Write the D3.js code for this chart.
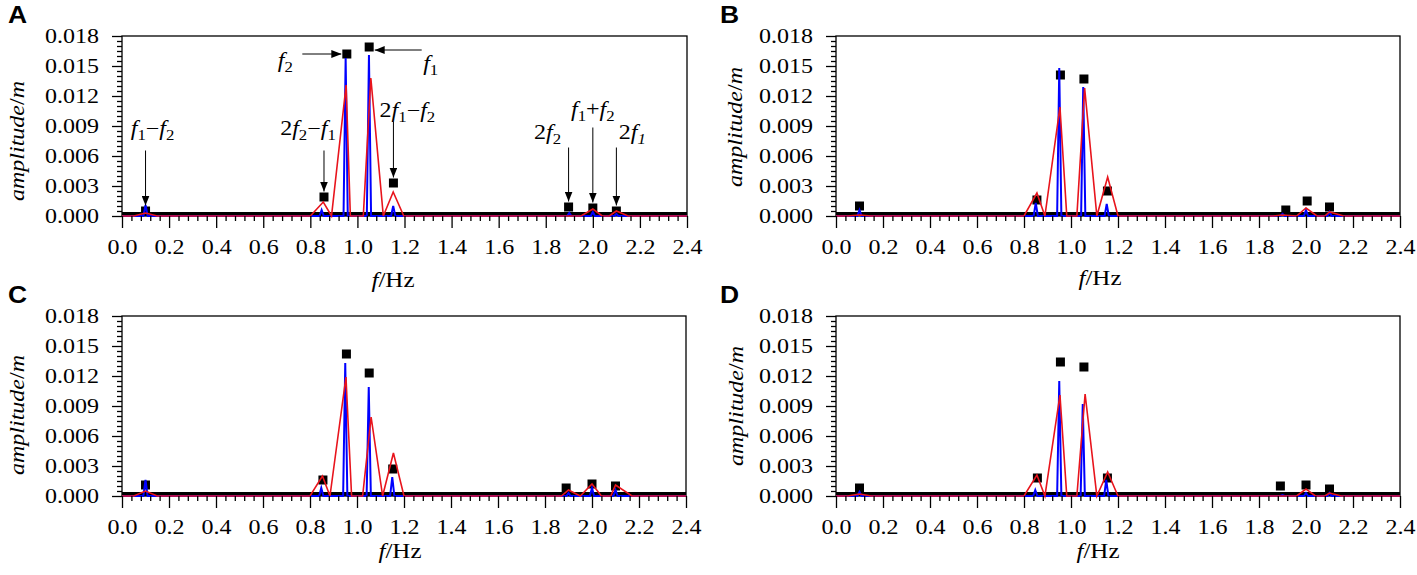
<!DOCTYPE html>
<html>
<head>
<meta charset="utf-8">
<script src="https://cdn.jsdelivr.net/npm/d3@7"></script>
<style>
  body { margin: 0; background: #fff; }
  svg { display: block; }
  text { font-family: "Liberation Serif", "Times New Roman", serif; fill: #000; }
</style>
</head>
<body>
<svg id="chart" width="1417" height="575"></svg>
<script>
// tick values
const freqTicks = [0.0, 0.2, 0.4, 0.6, 0.8, 1.0, 1.2, 1.4, 1.6, 1.8, 2.0, 2.2, 2.4];
const ampTicks = [0.000, 0.003, 0.006, 0.009, 0.012, 0.015, 0.018];

// black squares: [f, amplitude]
const squaresA = [[0.1, 0.0005], [0.858, 0.0019], [0.955, 0.0162], [1.05, 0.0169], [1.153, 0.0033], [1.897, 0.0009], [2.0, 0.0008], [2.1, 0.0005]];
const squaresB = [[0.1, 0.0010], [0.855, 0.0016], [0.955, 0.0141], [1.055, 0.0137], [1.155, 0.0025], [1.914, 0.0006], [2.005, 0.0015], [2.1, 0.0009]];
const squaresC = [[0.1, 0.0011], [0.855, 0.0016], [0.955, 0.0142], [1.052, 0.0123], [1.152, 0.0027], [1.89, 0.0008], [2.0, 0.0012], [2.1, 0.0010]];
const squaresD = [[0.1, 0.0008], [0.857, 0.0018], [0.955, 0.0134], [1.055, 0.0129], [1.155, 0.0018], [1.891, 0.0010], [2.0, 0.0011], [2.1, 0.0007]];

// blue spectrum peaks: [f, amplitude]
const blueA = [[0.1, 0.0011], [0.848, 0.0006], [0.950, 0.0158], [1.049, 0.0161], [1.152, 0.0010], [1.9, 0.0003], [2.0, 0.0004], [2.1, 0.0002]];
const blueB = [[0.1, 0.0006], [0.850, 0.0013], [0.950, 0.0148], [1.052, 0.0129], [1.152, 0.0012], [1.9, 0.0002], [2.0, 0.0006], [2.1, 0.0004]];
const blueC = [[0.1, 0.0016], [0.848, 0.0008], [0.950, 0.0133], [1.050, 0.0109], [1.150, 0.0019], [1.9, 0.0003], [2.0, 0.0008], [2.1, 0.0006]];
const blueD = [[0.1, 0.0004], [0.848, 0.0006], [0.950, 0.0115], [1.050, 0.0092], [1.150, 0.0016], [1.9, 0.0001], [2.0, 0.0003], [2.1, 0.0003]];

// red (coarse) spectrum: [f, amplitude]
const redA = [[0, 0], [0.05, 0], [0.1, 0.0003], [0.15, 0], [0.80, 0], [0.855, 0.0014], [0.89, 0], [0.952, 0.0131], [0.97, 0], [1.025, 0], [1.057, 0.0138], [1.11, 0], [1.152, 0.0024], [1.197, 0], [1.95, 0], [2.0, 0.0007], [2.04, 0], [2.07, 0], [2.1, 0.0005], [2.15, 0], [2.4, 0]];
const redB = [[0, 0], [0.05, 0], [0.1, 0.0001], [0.15, 0], [0.80, 0], [0.855, 0.0023], [0.889, 0], [0.953, 0.0109], [0.982, 0], [1.025, 0], [1.058, 0.0128], [1.11, 0], [1.156, 0.0039], [1.20, 0], [1.86, 0], [1.9, 0.0001], [1.96, 0], [2.0, 0.0008], [2.047, 0], [2.08, 0], [2.1, 0.0004], [2.16, 0], [2.4, 0]];
const redC = [[0, 0], [0.05, 0], [0.1, 0.0005], [0.15, 0], [0.80, 0], [0.853, 0.0020], [0.885, 0], [0.953, 0.0119], [0.977, 0], [1.024, 0], [1.06, 0.0079], [1.109, 0], [1.155, 0.0043], [1.20, 0], [1.87, 0], [1.9, 0.0006], [1.95, 0], [2.0, 0.0012], [2.04, 0], [2.08, 0], [2.1, 0.0011], [2.17, 0], [2.4, 0]];
const redD = [[0, 0], [0.05, 0], [0.1, 0.0002], [0.15, 0], [0.80, 0], [0.855, 0.0021], [0.889, 0], [0.953, 0.0101], [0.982, 0], [1.025, 0], [1.06, 0.0102], [1.11, 0], [1.156, 0.0024], [1.20, 0], [1.96, 0], [2.0, 0.0007], [2.04, 0], [2.08, 0], [2.1, 0.0003], [2.15, 0], [2.4, 0]];

// thick black near-zero trace
const blackTrace = [[0, 0.0002], [2.4, 0.0002]];

// annotations of panel A: label parts and the square they point to
const notesA = [
  { sq: 0, label: [['f', 'i'], ['1', 's'], ['\u2212', 'n'], ['f', 'i'], ['2', 's']], dir: 'down', len: 55, dx: 7, dy: -16 },
  { sq: 1, label: [['2', 'n'], ['f', 'i'], ['2', 's'], ['\u2212', 'n'], ['f', 'i'], ['1', 's']], dir: 'down', len: 41, dx: -16, dy: -16 },
  { sq: 4, label: [['2', 'n'], ['f', 'i'], ['1', 's'], ['\u2212', 'n'], ['f', 'i'], ['2', 's']], dir: 'down', len: 56, dx: 14, dy: -5 },
  { sq: 5, label: [['2', 'n'], ['f', 'i'], ['2', 's']], dir: 'down', len: 54, dx: -21, dy: -9 },
  { sq: 6, label: [['f', 'i'], ['1', 's'], ['+', 'n'], ['f', 'i'], ['2', 's']], dir: 'down', len: 75, dx: 0, dy: -12 },
  { sq: 7, label: [['2', 'n'], ['f', 'i'], ['1', 'si']], dir: 'down', len: 58, dx: 16, dy: -9 },
  { sq: 2, label: [['f', 'i'], ['2', 's']], dir: 'right', len: 39, dx: -17, dy: 13 },
  { sq: 3, label: [['f', 'i'], ['1', 's']], dir: 'left', len: 47, dx: 9, dy: 20, off: 3 }
];

const panels = [
  { id: 'A', left: 122, top: 36, width: 565, height: 180, letter: [8, 23], ylab: [17, 141], xlab: [393, 287], squares: squaresA, blue: blueA, red: redA, notes: notesA },
  { id: 'B', left: 836, top: 36, width: 564, height: 180, letter: [720, 23], ylab: [735, 127], xlab: [1100, 285], squares: squaresB, blue: blueB, red: redB, notes: [] },
  { id: 'C', left: 122, top: 316, width: 564, height: 180, letter: [8, 303], ylab: [17, 415], xlab: [400, 558], squares: squaresC, blue: blueC, red: redC, notes: [] },
  { id: 'D', left: 836, top: 316, width: 564, height: 180, letter: [720, 303], ylab: [736, 406], xlab: [1098, 558], squares: squaresD, blue: blueD, red: redD, notes: [] }
];

const spikeHalf = 0.009;
const sqSize = 9;
const serif = '"Liberation Serif", "Times New Roman", serif';

const svg = d3.select('#chart');
const defs = svg.append('defs');
defs.append('marker')
  .attr('id', 'head')
  .attr('viewBox', '0 0 10 8')
  .attr('refX', 10).attr('refY', 4)
  .attr('markerWidth', 10).attr('markerHeight', 8)
  .attr('markerUnits', 'userSpaceOnUse')
  .attr('orient', 'auto')
  .append('path').attr('d', 'M0,0 L10,4 L0,8 Z').attr('fill', '#000');

// make text a bit wider, like the original
function widen(sel, k) {
  sel.each(function () {
    const w = this.getComputedTextLength();
    d3.select(this).attr('textLength', w * k).attr('lengthAdjust', 'spacingAndGlyphs');
  });
}

function richText(g, parts, size) {
  const t = g.append('text').attr('text-anchor', 'middle')
    .style('font-family', serif).style('font-size', size + 'px');
  let shift = 0;
  parts.forEach(([s, kind]) => {
    const ts = t.append('tspan').text(s);
    if (kind === 'i' || kind === 'si') ts.style('font-style', 'italic');
    if (kind === 's' || kind === 'si') {
      ts.style('font-size', (size * 0.7) + 'px').attr('dy', 5 - shift);
      shift = 5;
    } else {
      ts.attr('dy', -shift);
      shift = 0;
    }
  });
  return t;
}

panels.forEach(p => {
  const x = d3.scaleLinear().domain([0, 2.4]).range([p.left, p.left + p.width]);
  const y = d3.scaleLinear().domain([0, 0.018]).range([p.top + p.height, p.top]);
  const g = svg.append('g');

  // frame
  g.append('rect')
    .attr('x', p.left).attr('y', p.top)
    .attr('width', p.width).attr('height', p.height)
    .attr('fill', 'none').attr('stroke', '#000').attr('stroke-width', 1.3);

  // black near-zero trace
  const line = d3.line().x(d => x(d[0])).y(d => y(d[1]));
  g.append('path').attr('d', line(blackTrace))
    .attr('fill', 'none').attr('stroke', '#000').attr('stroke-width', 4);

  // squares
  g.selectAll('.sq').data(p.squares).enter().append('rect')
    .attr('class', 'sq')
    .attr('x', d => x(d[0]) - sqSize / 2)
    .attr('y', d => y(d[1]) - sqSize / 2)
    .attr('width', sqSize).attr('height', sqSize)
    .attr('fill', '#000');

  // blue fine spectrum: narrow spikes on a zero baseline
  const bluePts = [[0, 0]];
  p.blue.forEach(([f, a]) => { bluePts.push([f - spikeHalf, 0], [f, a], [f + spikeHalf, 0]); });
  bluePts.push([2.4, 0]);
  g.append('path').attr('d', line(bluePts))
    .attr('fill', 'none').attr('stroke', '#0000ff').attr('stroke-width', 2)
    .attr('stroke-linejoin', 'miter');

  // red coarse spectrum
  g.append('path').attr('d', line(p.red))
    .attr('fill', 'none').attr('stroke', '#e8141c').attr('stroke-width', 1.6);

  // x axis
  const xMinor = d3.range(0, 2.4001, 0.04).filter(v => Math.abs(v / 0.2 - Math.round(v / 0.2)) > 1e-6);
  const gxm = g.append('g').attr('transform', `translate(0,${p.top + p.height})`)
    .call(d3.axisBottom(x).tickValues(xMinor).tickSize(5).tickFormat(''));
  const gx = g.append('g').attr('transform', `translate(0,${p.top + p.height})`)
    .call(d3.axisBottom(x).tickValues(freqTicks).tickSize(12).tickPadding(12).tickFormat(d3.format('.1f')));

  // y axis
  const yMinor = d3.range(0, 0.01801, 0.0005).filter(v => Math.abs(v / 0.003 - Math.round(v / 0.003)) > 1e-6);
  const gym = g.append('g').attr('transform', `translate(${p.left},0)`)
    .call(d3.axisLeft(y).tickValues(yMinor).tickSize(5).tickFormat(''));
  const gy = g.append('g').attr('transform', `translate(${p.left},0)`)
    .call(d3.axisLeft(y).tickValues(ampTicks).tickSize(10).tickPadding(13).tickFormat(d3.format('.3f')));

  [gxm, gx, gym, gy].forEach(a => {
    a.attr('font-family', serif);
    a.select('.domain').remove();
    a.selectAll('line').attr('stroke', '#000').attr('stroke-width', 1.3);
  });
  [gx, gy].forEach(a => {
    a.selectAll('text').style('font-family', serif).style('font-size', '20px').attr('fill', '#000');
    widen(a.selectAll('text'), 1.2);
  });

  // axis titles
  const yl = g.append('text')
    .attr('transform', `translate(${p.ylab[0]},${p.ylab[1]}) rotate(-90)`)
    .attr('text-anchor', 'middle').attr('dy', '0.35em')
    .style('font-family', serif).style('font-size', '20px');
  yl.append('tspan').text('amplitude').style('font-style', 'italic');
  yl.append('tspan').text('/');
  yl.append('tspan').text('m').style('font-style', 'italic');
  widen(yl, 1.2);

  const xl = g.append('text')
    .attr('x', p.xlab[0]).attr('y', p.xlab[1])
    .attr('text-anchor', 'middle')
    .style('font-family', serif).style('font-size', '20px');
  xl.append('tspan').text('f').style('font-style', 'italic');
  xl.append('tspan').text('/Hz');
  widen(xl, 1.25);

  // panel letter
  const lt = g.append('text')
    .attr('x', p.letter[0]).attr('y', p.letter[1])
    .style('font-family', '"Liberation Sans", Arial, sans-serif')
    .style('font-weight', 'bold').style('font-size', '23px')
    .text(p.id);
  widen(lt, 1.15);

  // annotations
  p.notes.forEach(n => {
    const [f, a] = p.squares[n.sq];
    const sx = x(f), sy = y(a);
    let x1, y1, x2, y2;
    if (n.dir === 'down') {
      x2 = sx; y2 = sy - sqSize / 2 - 1;
      x1 = sx; y1 = y2 - n.len;
    } else if (n.dir === 'right') {
      x2 = sx - sqSize / 2 - 1; y2 = sy + (n.off || 0);
      x1 = x2 - n.len; y1 = y2;
    } else {
      x2 = sx + sqSize / 2 + 1; y2 = sy + (n.off || 0);
      x1 = x2 + n.len; y1 = y2;
    }
    g.append('line')
      .attr('x1', x1).attr('y1', y1).attr('x2', x2).attr('y2', y2)
      .attr('stroke', '#000').attr('stroke-width', 1)
      .attr('marker-end', 'url(#head)');
    const tg = g.append('g').attr('transform', `translate(${x1 + n.dx},${y1 + n.dy}) scale(1.2,1)`);
    richText(tg, n.label, 20);
  });
});
</script>
</body>
</html>
